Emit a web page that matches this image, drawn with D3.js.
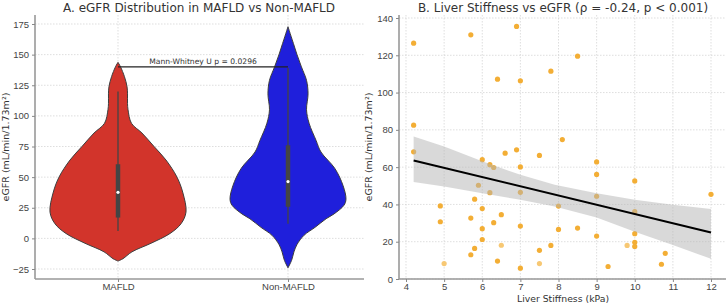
<!DOCTYPE html>
<html>
<head>
<meta charset="utf-8">
<script src="https://cdn.jsdelivr.net/npm/d3@7"></script>
<style>
  body { margin: 0; background: #fff; }
  svg { display: block; font-family: "DejaVu Sans", sans-serif; }
  .tick text { fill: #444; font-size: 9.5px; }
  .tick line { stroke: #888; }
  .domain { stroke: #999; stroke-width: 1.6; }
</style>
</head>
<body>
<svg width="728" height="304"></svg>
<script>
'use strict'

// ---- panel A data ----
const groups = ['MAFLD', 'Non-MAFLD']
const groupColors = ['#d2342b', '#1f1fdb']
// violin outline: eGFR level and density half-width (category units)
const mafldLevels = [143.7, 140, 132, 124, 118, 110, 105, 94, 86, 75, 64, 50, 37, 21.5, 12, 4, -4, -11, -16.6, -18.5]
const mafldDensity = [0, .015, .038, .053, .056, .056, .059, .079, .141, .212, .282, .347, .382, .4, .371, .306, .194, .082, .029, 0]
const nonLevels = [172.8, 165, 159, 150, 140, 129, 118, 105, 94, 80, 70.5, 57, 43, 32, 27, 20, 16, 9, 2.5, -5, -11, -18, -24]
const nonDensity = [0, .018, .032, .053, .079, .109, .118, .109, .124, .165, .194, .276, .324, .341, .329, .271, .224, .159, .094, .053, .035, .021, 0]
// box stats: [whiskerLow, q1, median, q3, whiskerHigh]
const boxStats = [[6, 17, 37.6, 60.5, 120], [12, 25.8, 46.4, 76, 139]]
const pTestLevel = 140
const pTestLabel = 'Mann-Whitney U p = 0.0296'
const ticksA = [-25, 0, 25, 50, 75, 100, 125, 150, 175]

// ---- panel B data ----
const stiffness = [4.2, 5.7, 6.9, 8.5, 6.4, 7.0, 7.8, 4.2, 8.1, 4.2, 6.0, 6.2, 6.3, 6.6, 6.9, 7.0, 7.5, 9.0, 9.0, 10.0,
  12.0, 5.9, 6.2, 7.0, 5.8, 9.0, 4.9, 8.0, 6.0, 10.0, 6.5, 4.9, 5.7, 6.3, 6.0, 7.0, 8.0, 8.5, 10.0, 9.0,
  6.0, 10.0, 10.0, 9.8, 7.8, 6.5, 5.8, 7.5, 5.7, 10.8, 6.4, 5.0, 7.5, 10.7, 9.3, 7.0]
const egfr = [126.5, 131, 135.5, 119.5, 107.2, 106.3, 111.5, 82.5, 74.8, 68.2, 64, 61.3, 59.8, 67.5, 69.3, 60.1, 66.3, 62.8, 56.1, 52.6,
  45.4, 50.3, 46.3, 46.5, 42.8, 44.4, 39.2, 39.1, 37.8, 36.1, 34.5, 30.7, 32.7, 30.2, 27.0, 28.4, 26.6, 27.3, 24.3, 23.0,
  21.2, 19.7, 17.5, 18.0, 18.0, 18.1, 16.4, 15.4, 13.0, 13.7, 9.6, 8.3, 8.3, 7.9, 6.7, 5.8]
const faint = [0, 0, 0, 0, 0, 0, 0, 0, 0, 0, 0, 0, 0, 0, 0, 0, 0, 0, 0, 0,
  0, 0, 0, 0, 0, 0, 0, 0, 0, 0, 0, 0, 0, 0, 0, 0, 0, 0, 0, 0,
  0, 0, 0, 1, 0, 1, 0, 0, 0, 0, 0, 1, 1, 0, 0, 0]
const fitX = [4.2, 12.0]
const fitY = [63.6, 24.9]
const bandX = [4.2, 5.0, 6.0, 7.0, 7.9, 9.0, 10.0, 11.0, 12.0]
const bandUpper = [76.5, 71.1, 63.1, 55.9, 50.5, 46.0, 42.5, 39.8, 37.6]
const bandLower = [52.0, 49.6, 46.0, 42.5, 38.9, 33.0, 25.4, 18.3, 10.8]
const ticksBx = [4, 5, 6, 7, 8, 9, 10, 11, 12]
const ticksBy = [0, 20, 40, 60, 80, 100, 120, 140]

const svg = d3.select('svg')
const yLabel = 'eGFR (mL/min/1.73m²)'

// ================= Panel A =================
const A = { left: 35, right: 364, top: 15, bottom: 279 }
const xA = d3.scaleLinear().domain([0, 1]).range([118, 288])
const yA = d3.scaleLinear().domain([-25, 175]).range([269, 24])

const gA = svg.append('g')
// grid
gA.selectAll('.hgrid').data(ticksA).join('line')
  .attr('x1', A.left).attr('x2', A.right)
  .attr('y1', d => yA(d)).attr('y2', d => yA(d))
  .attr('stroke', '#d0d0d0').attr('stroke-width', 0.7).attr('stroke-dasharray', '1.5,1.5')
gA.selectAll('.vgrid').data([0, 1]).join('line')
  .attr('x1', d => xA(d)).attr('x2', d => xA(d))
  .attr('y1', A.top).attr('y2', A.bottom)
  .attr('stroke', '#d0d0d0').attr('stroke-width', 0.7).attr('stroke-dasharray', '1.5,1.5')

const violinData = [
  mafldLevels.map((v, i) => ({ v: v, w: mafldDensity[i] })),
  nonLevels.map((v, i) => ({ v: v, w: nonDensity[i] }))
]
violinData.forEach((prof, gi) => {
  const area = d3.area()
    .curve(d3.curveCatmullRom)
    .y(d => yA(d.v))
    .x0(d => xA(gi - d.w))
    .x1(d => xA(gi + d.w))
  gA.append('path')
    .datum(prof)
    .attr('d', area)
    .attr('fill', groupColors[gi])
    .attr('stroke', '#3d3d3d')
    .attr('stroke-width', 1)
})

// inner box plots
boxStats.forEach((s, gi) => {
  const cx = xA(gi)
  gA.append('line').attr('x1', cx).attr('x2', cx)
    .attr('y1', yA(s[0])).attr('y2', yA(s[4]))
    .attr('stroke', '#444').attr('stroke-width', 1.3)
  gA.append('line').attr('x1', cx).attr('x2', cx)
    .attr('y1', yA(s[1])).attr('y2', yA(s[3]))
    .attr('stroke', '#444').attr('stroke-width', 4.5)
  gA.append('circle').attr('cx', cx).attr('cy', yA(s[2]))
    .attr('r', 1.6).attr('fill', '#fff')
})

// significance bracket
gA.append('line')
  .attr('x1', xA(0)).attr('x2', xA(1))
  .attr('y1', yA(pTestLevel)).attr('y2', yA(pTestLevel))
  .attr('stroke', '#222').attr('stroke-width', 1.1)
gA.append('text')
  .attr('x', (xA(0) + xA(1)) / 2).attr('y', yA(pTestLevel) - 2.5)
  .attr('text-anchor', 'middle').attr('font-size', 7.6).attr('fill', '#333')
  .text(pTestLabel)

// axes
gA.append('g').attr('transform', `translate(${A.left},0)`)
  .call(d3.axisLeft(yA).tickValues(ticksA).tickSize(3).tickPadding(3).tickFormat(d => d < 0 ? '−' + Math.abs(d) : d))
  .call(g => g.select('.domain').attr('d', `M0,${A.top}V${A.bottom}`))
gA.append('g').attr('transform', `translate(0,${A.bottom})`)
  .call(d3.axisBottom(xA).tickValues([0, 1]).tickSize(3).tickPadding(1.5).tickFormat(i => groups[i]))
  .call(g => g.select('.domain').attr('d', `M${A.left},0H${A.right}`))

gA.append('text').attr('x', 199).attr('y', 11.5)
  .attr('text-anchor', 'middle').attr('font-size', 12).attr('fill', '#333')
  .text('A. eGFR Distribution in MAFLD vs Non-MAFLD')
gA.append('text').attr('transform', `translate(9,${(A.top + A.bottom) / 2}) rotate(-90)`)
  .attr('text-anchor', 'middle').attr('font-size', 9.5).attr('fill', '#333')
  .text(yLabel)

// ================= Panel B =================
const B = { left: 399, right: 726, top: 15, bottom: 279 }
const xB = d3.scaleLinear().domain([4, 12]).range([406, 711])
const yB = d3.scaleLinear().domain([0, 140]).range([279, 18])

const gB = svg.append('g')
gB.selectAll('.hgrid').data(ticksBy).join('line')
  .attr('x1', B.left).attr('x2', B.right)
  .attr('y1', d => yB(d)).attr('y2', d => yB(d))
  .attr('stroke', '#d0d0d0').attr('stroke-width', 0.7).attr('stroke-dasharray', '1.5,1.5')
gB.selectAll('.vgrid').data(ticksBx).join('line')
  .attr('x1', d => xB(d)).attr('x2', d => xB(d))
  .attr('y1', B.top).attr('y2', B.bottom)
  .attr('stroke', '#d0d0d0').attr('stroke-width', 0.7).attr('stroke-dasharray', '1.5,1.5')

// points
const pts = stiffness.map((s, i) => ({ x: s, y: egfr[i], faint: faint[i] }))
gB.selectAll('.pt').data(pts).join('circle')
  .attr('cx', d => xB(d.x)).attr('cy', d => yB(d.y))
  .attr('r', 2.6)
  .attr('fill', d => d.faint ? '#f7c874' : '#f3ae35')

// confidence band and fit
const band = bandX.map((x, i) => ({ x: x, lo: bandLower[i], hi: bandUpper[i] }))
gB.append('path').datum(band)
  .attr('d', d3.area().x(d => xB(d.x)).y0(d => yB(d.lo)).y1(d => yB(d.hi)))
  .attr('fill', '#b4b4b4').attr('fill-opacity', 0.5)
gB.append('path').datum(fitX.map((x, i) => ({ x: x, y: fitY[i] })))
  .attr('d', d3.line().x(d => xB(d.x)).y(d => yB(d.y)))
  .attr('stroke', '#000').attr('stroke-width', 2).attr('fill', 'none')

gB.append('g').attr('transform', `translate(${B.left},0)`)
  .call(d3.axisLeft(yB).tickValues(ticksBy).tickSize(3).tickPadding(3))
  .call(g => g.select('.domain').attr('d', `M0,${B.top}V${B.bottom}`))
gB.append('g').attr('transform', `translate(0,${B.bottom})`)
  .call(d3.axisBottom(xB).tickValues(ticksBx).tickSize(3).tickPadding(1.5))
  .call(g => g.select('.domain').attr('d', `M${B.left},0H${B.right}`))

gB.append('text').attr('x', 563).attr('y', 11.5)
  .attr('text-anchor', 'middle').attr('font-size', 12).attr('fill', '#333')
  .text('B. Liver Stiffness vs eGFR (ρ = -0.24, p < 0.001)')
gB.append('text').attr('x', 563).attr('y', 302)
  .attr('text-anchor', 'middle').attr('font-size', 9.3).attr('fill', '#333')
  .text('Liver Stiffness (kPa)')
gB.append('text').attr('transform', `translate(372,${(B.top + B.bottom) / 2}) rotate(-90)`)
  .attr('text-anchor', 'middle').attr('font-size', 9.5).attr('fill', '#333')
  .text(yLabel)
</script>
</body>
</html>
